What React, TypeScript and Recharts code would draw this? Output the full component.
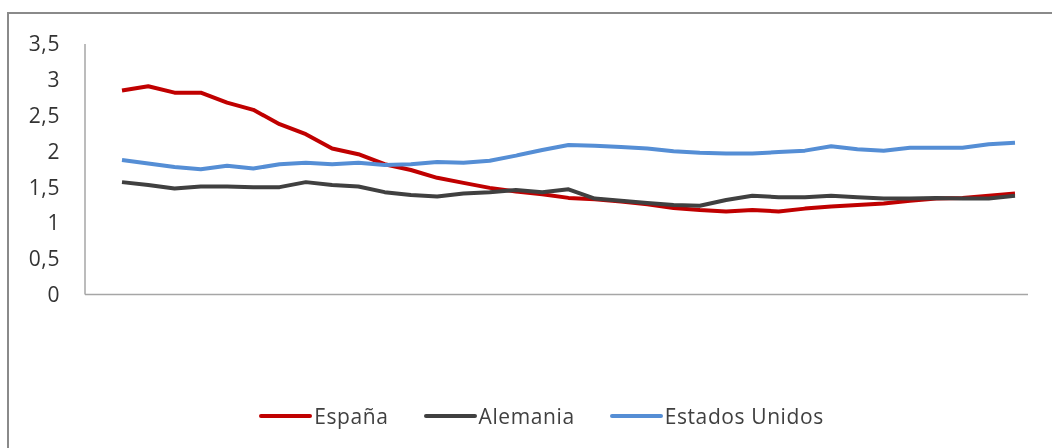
import React from 'react';
import { LineChart, Line, XAxis, YAxis, Legend } from 'recharts';

// Periods along the horizontal axis (not labelled on the chart)
const periods: number[] = [
  1, 2, 3, 4, 5, 6, 7, 8, 9, 10, 11, 12, 13, 14, 15, 16, 17, 18, 19, 20,
  21, 22, 23, 24, 25, 26, 27, 28, 29, 30, 31, 32, 33, 34, 35,
];

const espana: number[] = [
  2.85, 2.91, 2.82, 2.82, 2.68, 2.58, 2.38, 2.24, 2.04, 1.96, 1.82, 1.74,
  1.63, 1.56, 1.49, 1.44, 1.40, 1.35, 1.33, 1.30, 1.26, 1.21, 1.18, 1.16,
  1.18, 1.16, 1.20, 1.23, 1.25, 1.27, 1.31, 1.34, 1.35, 1.38, 1.41,
];

const alemania: number[] = [
  1.57, 1.53, 1.48, 1.51, 1.51, 1.50, 1.50, 1.57, 1.53, 1.51, 1.43, 1.39,
  1.37, 1.41, 1.43, 1.46, 1.43, 1.47, 1.34, 1.31, 1.28, 1.25, 1.24, 1.32,
  1.38, 1.36, 1.36, 1.38, 1.36, 1.34, 1.34, 1.35, 1.34, 1.34, 1.38,
];

const estadosUnidos: number[] = [
  1.88, 1.83, 1.78, 1.75, 1.80, 1.76, 1.82, 1.84, 1.82, 1.84, 1.81, 1.82,
  1.85, 1.84, 1.87, 1.94, 2.02, 2.09, 2.08, 2.06, 2.04, 2.00, 1.98, 1.97,
  1.97, 1.99, 2.01, 2.07, 2.03, 2.01, 2.05, 2.05, 2.05, 2.10, 2.12,
];

const yTicks: number[] = [0, 0.5, 1, 1.5, 2, 2.5, 3, 3.5];

const series = [
  { key: 'espana', name: 'España', color: '#C00000' },
  { key: 'alemania', name: 'Alemania', color: '#404040' },
  { key: 'estados', name: 'Estados Unidos', color: '#558ED5' },
];

const data = periods.map((p, i) => ({
  period: p,
  espana: espana[i],
  alemania: alemania[i],
  estados: estadosUnidos[i],
}));

const FONT = '"Open Sans", "Noto Sans", sans-serif';

const formatTick = (v: number) => String(v).replace('.', ',');

// Legend keeps the series order (España, Alemania, Estados Unidos)
function LegendContent() {
  return (
    <div
      style={{
        display: 'flex',
        justifyContent: 'center',
        alignItems: 'center',
        height: 40,
        fontFamily: FONT,
        fontSize: 21,
        letterSpacing: 0.6,
        color: '#404040',
      }}
    >
      {series.map((s, idx) => (
        <div
          key={s.key}
          style={{
            display: 'flex',
            alignItems: 'center',
            marginLeft: idx === 0 ? 0 : 35,
          }}
        >
          <span
            style={{
              display: 'inline-block',
              width: 53,
              height: 4,
              borderRadius: 2,
              background: s.color,
              marginRight: 2,
            }}
          />
          <span>{s.name}</span>
        </div>
      ))}
    </div>
  );
}

export default function App() {
  return (
    <div style={{ position: 'relative' }}>
      <div
        style={{
          position: 'fixed',
          left: 7,
          top: 12,
          width: 1100,
          height: 500,
          borderLeft: '2px solid #8a8a8a',
          borderTop: '2px solid #8a8a8a',
          pointerEvents: 'none',
        }}
      />
      <LineChart
        width={1044}
        height={440}
        data={data}
        margin={{ top: 36, right: 24, bottom: 112.5, left: 0 }}
      >
        <XAxis
          dataKey="period"
          tick={false}
          tickLine={false}
          height={1}
          axisLine={{ stroke: '#a6a6a6', strokeWidth: 1.5 }}
          padding={{ left: 37, right: 13 }}
        />
        <YAxis
          width={77}
          domain={[0, 3.5]}
          ticks={yTicks}
          tickFormatter={formatTick}
          tickLine={false}
          tickSize={0}
          tickMargin={25}
          axisLine={{ stroke: '#a6a6a6', strokeWidth: 1.5 }}
          tick={{ fontSize: 21, fill: '#333333', fontFamily: FONT, letterSpacing: 0.6 }}
        />
        {series.map((s) => (
          <Line
            key={s.key}
            type="linear"
            dataKey={s.key}
            name={s.name}
            stroke={s.color}
            strokeWidth={4}
            strokeLinejoin="round"
            dot={false}
            activeDot={false}
            isAnimationActive={false}
          />
        ))}
        <Legend
          verticalAlign="bottom"
          content={<LegendContent />}
          wrapperStyle={{ top: 388, bottom: 'auto', left: 0, width: 1067 }}
        />
      </LineChart>
    </div>
  );
}
